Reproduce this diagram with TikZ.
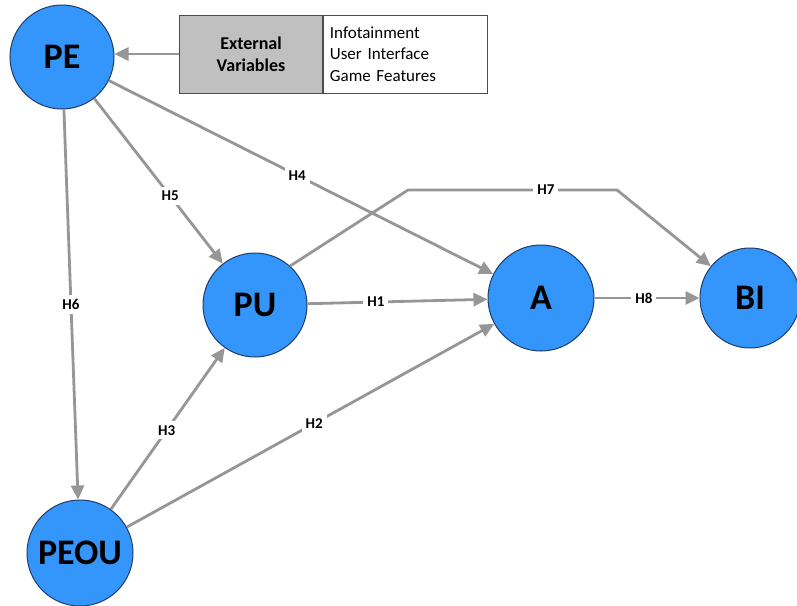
\documentclass[tikz,border=0pt]{standalone}
\usepackage{fontspec}
\setmainfont{Carlito}
\definecolor{circblue}{RGB}{52, 150, 250}
\definecolor{circedge}{RGB}{30, 60, 105}
\definecolor{linegray}{RGB}{150, 150, 150}
\definecolor{boxgray}{RGB}{192, 192, 192}
\usetikzlibrary{arrows.meta, positioning}

\begin{document}
\begin{tikzpicture}[x=1pt, y=-1pt,
  construct/.style={circle, draw=circedge, line width=1pt, fill=circblue, minimum size=104pt, inner sep=0pt, font=\fontsize{36}{40}\selectfont\bfseries},
  hyp/.style={draw=linegray, line width=2.8pt, -{Triangle[length=14pt, width=13pt]}},
  hlabel/.style={fill=white, inner sep=4pt, font=\fontsize{15}{18}\selectfont\bfseries}]
  \useasboundingbox (0, 0) rectangle (797, 605);

  % Constructs
  \node[construct] (pe) at (62, 57) {PE};
  \node[construct] (pu) at (255, 305) {PU};
  \node[construct, minimum size=106pt] (a) at (541, 298) {A};
  \node[construct, minimum size=100pt] (bi) at (750, 298) {BI};
  \node[construct, minimum size=106pt] (peou) at (80, 553) {PEOU};

  % External variables
  \node[draw=black!70, fill=boxgray, minimum width=143pt, minimum height=78pt, align=center, inner sep=0pt, font=\fontsize{18}{22}\selectfont\bfseries] (ext) at (251, 54) {External\\Variables};
  \node[draw=black!70, fill=white, minimum width=164pt, minimum height=78pt, text width=150pt, align=left, inner sep=0pt, anchor=west, font=\fontsize{17}{21.5}\selectfont] (extlist) at (ext.east) {Infotainment\\User Interface\\Game Features};
  \draw[hyp] (ext.west) -- (ext.west -| pe.east);

  % Hypotheses
  \draw[hyp] (pe) -- node[hlabel, pos=0.49] {H4} (a);
  \draw[hyp] (pe) -- node[hlabel, pos=0.59] {H5} (pu);
  \draw[hyp] (pe) -- node[hlabel, pos=0.5] {H6} (peou);
  \draw[hyp] (pu) -- node[hlabel, pos=0.38] {H1} (a);
  \draw[hyp] (peou) -- node[hlabel, pos=0.49] {H3} (pu);
  \draw[hyp] (peou) -- node[hlabel, pos=0.51] {H2} (a);
  \draw[hyp] (a) -- node[hlabel, pos=0.47] {H8} (bi);

  % H7 goes over the top
  \coordinate (h7a) at (408, 190);
  \coordinate (h7b) at (617, 190);
  \draw[hyp] (pu.48) -- (h7a) -- node[hlabel, pos=0.66] {H7} (h7b) -- (bi);
\end{tikzpicture}
\end{document}
